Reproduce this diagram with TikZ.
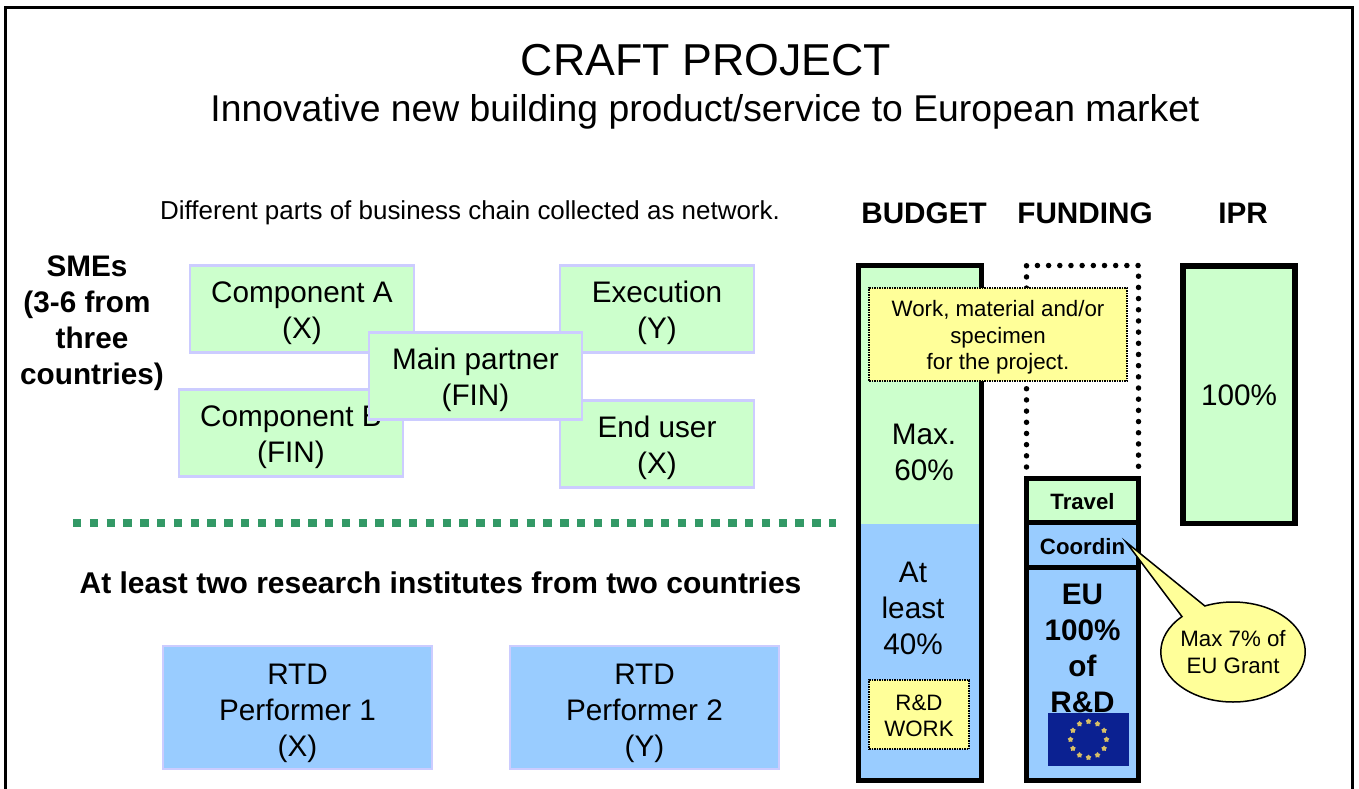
\documentclass[tikz,border=0pt]{standalone}
\usepackage{fontspec}
\setmainfont{Liberation Sans}
\usetikzlibrary{calc,shapes.geometric,shapes.callouts}
\definecolor{smegreen}{HTML}{CCFFCC}
\definecolor{rtdblue}{HTML}{99CCFF}
\definecolor{edgeblue}{HTML}{CCCCFF}
\definecolor{noteyellow}{HTML}{FFFF99}
\definecolor{linegreen}{HTML}{339966}
\definecolor{flagblue}{HTML}{0B2191}
\definecolor{flagstar}{HTML}{D9C066}
\newcommand{\dn}[1]{\rule{0pt}{#1pt}}
\tikzset{
  big/.style={font=\fontsize{29.7}{36}\selectfont,align=center,inner sep=0pt},
  bigb/.style={font=\fontsize{29.7}{36}\bfseries\selectfont,align=center,inner sep=0pt},
  small/.style={font=\fontsize{22.3}{26.5}\selectfont,align=center,inner sep=0pt},
  smallb/.style={font=\fontsize{22.2}{26.5}\bfseries\selectfont,align=center,inner sep=0pt},
  part/.style={big,draw=edgeblue,line width=2.2pt,fill=#1},
  bar/.style={draw=black,line width=5.5pt,fill=#1,inner sep=0pt},
  note/.style={small,draw=black,densely dotted,line width=1.5pt,fill=noteyellow},
}
\begin{document}
\begin{tikzpicture}[x=1pt,y=-1pt]
\useasboundingbox (0,0) rectangle (1359,789);
\draw[line width=2.4pt] (5.5,789) -- (5.5,7.5) -- (1352.5,7.5) -- (1352.5,789);
% titles
\node (title) [inner sep=0pt,font=\fontsize{44.7}{50}\selectfont] at (706,60) {CRAFT PROJECT};
\node (sub) [inner sep=0pt,font=\fontsize{37.3}{42}\selectfont] at (705,112) {Innovative new building product/service to European market};
\node (chain) [inner sep=0pt,font=\fontsize{25.95}{30}\selectfont] at (470,213) {Different parts of business chain collected as network.};
\node (budget) [bigb] at (924,213) {BUDGET};
\node (funding) [bigb] at (1085,213) {FUNDING};
\node (ipr) [bigb] at (1243,213) {IPR};
\node (smes) [bigb] at (87,287) {SMEs\\(3-6 from};
\node (smesb) [bigb] at (92,359) {three\\countries)};
% partners
\node (compa) [part=smegreen,minimum width=224pt,minimum height=87pt] at (302,309) {\dn{29.5}Component A\\(X)};
\node (exec) [part=smegreen,minimum width=194pt,minimum height=87pt] at (657,309) {\dn{29.5}Execution\\(Y)};
\node (compb) [part=smegreen,minimum width=224pt,minimum height=87pt] at (291,433) {\dn{29.5}Component B\\(FIN)};
\node (enduser) [part=smegreen,minimum width=194pt,minimum height=87pt] at (657,444) {\dn{29.5}End user\\(X)};
\node (mainp) [part=smegreen,minimum width=213pt,minimum height=87pt] at (475.5,376) {\dn{29.5}Main partner\\(FIN)};
\draw[linegreen,line width=8.2pt,dash pattern=on 8.4pt off 8.4pt] (73,523) -- (836,523);
\node (rtdlabel) [inner sep=0pt,font=\fontsize{30}{36}\bfseries\selectfont] at (440.5,583) {At least two research institutes from two countries};
\node (rtda) [part=rtdblue,minimum width=269pt,minimum height=123pt] at (297.5,707.5) {\dn{32}RTD\\Performer 1\\(X)};
\node (rtdb) [part=rtdblue,minimum width=269pt,minimum height=123pt] at (644.5,707.5) {\dn{32}RTD\\Performer 2\\(Y)};
% budget column
\node (btop) [fill=smegreen,inner sep=0pt,minimum width=123pt,minimum height=258pt] at (920,394.5) {};
\node (blow) [fill=rtdblue,inner sep=0pt,minimum width=123pt,minimum height=257pt] at (920,652) {};
\node (bframe) [draw=black,line width=5.5pt,inner sep=0pt,minimum width=123pt,minimum height=515pt] at (920,523) {};
\node (max) [big] at (924,452) {Max.\\60\%};
\node (least) [big] at (913,608) {At\\least\\40\%};
% funding column
\draw[line width=5.5pt,line cap=round,dash pattern=on 0pt off 11.18pt] (1026.5,467) -- (1026.5,265.5) -- (1138.5,265.5) -- (1138.5,467);
\node (travel) [bar=smegreen,minimum width=112pt,minimum height=44.5pt] at (1082.5,500.5) {};
\node at (1082.5,501.5) [smallb] {Travel};
\node (coord) [bar=rtdblue,minimum width=112pt,minimum height=45pt] at (1082.5,545) {};
\node at (1082.5,547) [smallb] {Coordin};
\node (eu) [bar=rtdblue,minimum width=112pt,minimum height=213pt] at (1082.5,674) {};
\node (eutext) [bigb] at (1082.5,648) {EU\\100\%\\of\\R\&D};
\node (flag) [fill=flagblue,inner sep=0pt,minimum width=81pt,minimum height=53pt] at (1088.5,739.5) {};
\foreach \i in {0,30,...,330}
  \node (s\i) [star,star points=5,fill=flagstar,inner sep=0pt,minimum size=6pt] at ($(flag)+(\i:18)$) {};
% ipr column
\node (iprbar) [bar=smegreen,minimum width=112pt,minimum height=257.5pt] at (1239,394.5) {};
\node (pct) [big] at (1239,395.5) {100\%};
% notes
\node (work) [note,minimum width=258pt,minimum height=93pt] at (998,334.5) {\dn{22.5}Work, material and/or\\specimen\\for the project.};
\node (rdwork) [note,minimum width=100pt,minimum height=69pt] at (919,714.5) {\dn{18.5}R\&D\\WORK};
\node (grant) [small,ellipse callout,draw=black,line width=1.5pt,fill=noteyellow,inner xsep=-1.6pt,minimum height=100pt,callout pointer arc=22,callout absolute pointer={(1126,542)}] at (1233,652) {Max 7\% of\\EU Grant};
\end{tikzpicture}
\end{document}
